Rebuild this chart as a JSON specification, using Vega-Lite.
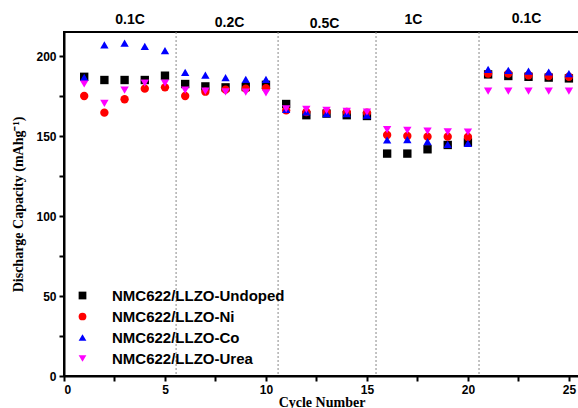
{
  "$schema": "https://vega.github.io/schema/vega-lite/v6.json",
  "width": 515,
  "height": 344,
  "autosize": {"type": "none"},
  "padding": {"left": 64, "top": 32, "right": 0, "bottom": 32},
  "background": "white",
  "config": {
    "view": {"stroke": "black", "strokeWidth": 2},
    "font": "Liberation Sans"
  },
  "datasets": {
    "pts": [
      {"cycle":1,"series":"NMC622/LLZO-Undoped","cap":187},
      {"cycle":2,"series":"NMC622/LLZO-Undoped","cap":185},
      {"cycle":3,"series":"NMC622/LLZO-Undoped","cap":185},
      {"cycle":4,"series":"NMC622/LLZO-Undoped","cap":185},
      {"cycle":5,"series":"NMC622/LLZO-Undoped","cap":187.7},
      {"cycle":6,"series":"NMC622/LLZO-Undoped","cap":182.5},
      {"cycle":7,"series":"NMC622/LLZO-Undoped","cap":181},
      {"cycle":8,"series":"NMC622/LLZO-Undoped","cap":180.4},
      {"cycle":9,"series":"NMC622/LLZO-Undoped","cap":180.6},
      {"cycle":10,"series":"NMC622/LLZO-Undoped","cap":182},
      {"cycle":11,"series":"NMC622/LLZO-Undoped","cap":170},
      {"cycle":12,"series":"NMC622/LLZO-Undoped","cap":163},
      {"cycle":13,"series":"NMC622/LLZO-Undoped","cap":164},
      {"cycle":14,"series":"NMC622/LLZO-Undoped","cap":163},
      {"cycle":15,"series":"NMC622/LLZO-Undoped","cap":162.5},
      {"cycle":16,"series":"NMC622/LLZO-Undoped","cap":139},
      {"cycle":17,"series":"NMC622/LLZO-Undoped","cap":139},
      {"cycle":18,"series":"NMC622/LLZO-Undoped","cap":141.7},
      {"cycle":19,"series":"NMC622/LLZO-Undoped","cap":144.4},
      {"cycle":20,"series":"NMC622/LLZO-Undoped","cap":146},
      {"cycle":21,"series":"NMC622/LLZO-Undoped","cap":188.5},
      {"cycle":22,"series":"NMC622/LLZO-Undoped","cap":187.5},
      {"cycle":23,"series":"NMC622/LLZO-Undoped","cap":187},
      {"cycle":24,"series":"NMC622/LLZO-Undoped","cap":186.5},
      {"cycle":25,"series":"NMC622/LLZO-Undoped","cap":186},
      {"cycle":1,"series":"NMC622/LLZO-Ni","cap":175},
      {"cycle":2,"series":"NMC622/LLZO-Ni","cap":164.6},
      {"cycle":3,"series":"NMC622/LLZO-Ni","cap":173},
      {"cycle":4,"series":"NMC622/LLZO-Ni","cap":179.6},
      {"cycle":5,"series":"NMC622/LLZO-Ni","cap":180.4},
      {"cycle":6,"series":"NMC622/LLZO-Ni","cap":175},
      {"cycle":7,"series":"NMC622/LLZO-Ni","cap":177.7},
      {"cycle":8,"series":"NMC622/LLZO-Ni","cap":179},
      {"cycle":9,"series":"NMC622/LLZO-Ni","cap":179.6},
      {"cycle":10,"series":"NMC622/LLZO-Ni","cap":179.9},
      {"cycle":11,"series":"NMC622/LLZO-Ni","cap":166},
      {"cycle":12,"series":"NMC622/LLZO-Ni","cap":165},
      {"cycle":13,"series":"NMC622/LLZO-Ni","cap":165},
      {"cycle":14,"series":"NMC622/LLZO-Ni","cap":165},
      {"cycle":15,"series":"NMC622/LLZO-Ni","cap":164.6},
      {"cycle":16,"series":"NMC622/LLZO-Ni","cap":150.6},
      {"cycle":17,"series":"NMC622/LLZO-Ni","cap":150},
      {"cycle":18,"series":"NMC622/LLZO-Ni","cap":149.6},
      {"cycle":19,"series":"NMC622/LLZO-Ni","cap":149.6},
      {"cycle":20,"series":"NMC622/LLZO-Ni","cap":149.4},
      {"cycle":21,"series":"NMC622/LLZO-Ni","cap":189},
      {"cycle":22,"series":"NMC622/LLZO-Ni","cap":189},
      {"cycle":23,"series":"NMC622/LLZO-Ni","cap":188},
      {"cycle":24,"series":"NMC622/LLZO-Ni","cap":187.5},
      {"cycle":25,"series":"NMC622/LLZO-Ni","cap":187},
      {"cycle":1,"series":"NMC622/LLZO-Co","cap":186.7},
      {"cycle":2,"series":"NMC622/LLZO-Co","cap":207},
      {"cycle":3,"series":"NMC622/LLZO-Co","cap":208},
      {"cycle":4,"series":"NMC622/LLZO-Co","cap":206},
      {"cycle":5,"series":"NMC622/LLZO-Co","cap":203.3},
      {"cycle":6,"series":"NMC622/LLZO-Co","cap":189.8},
      {"cycle":7,"series":"NMC622/LLZO-Co","cap":188},
      {"cycle":8,"series":"NMC622/LLZO-Co","cap":186.5},
      {"cycle":9,"series":"NMC622/LLZO-Co","cap":185.4},
      {"cycle":10,"series":"NMC622/LLZO-Co","cap":185.4},
      {"cycle":11,"series":"NMC622/LLZO-Co","cap":166.7},
      {"cycle":12,"series":"NMC622/LLZO-Co","cap":165},
      {"cycle":13,"series":"NMC622/LLZO-Co","cap":164},
      {"cycle":14,"series":"NMC622/LLZO-Co","cap":164},
      {"cycle":15,"series":"NMC622/LLZO-Co","cap":163},
      {"cycle":16,"series":"NMC622/LLZO-Co","cap":147.5},
      {"cycle":17,"series":"NMC622/LLZO-Co","cap":147.8},
      {"cycle":18,"series":"NMC622/LLZO-Co","cap":146.5},
      {"cycle":19,"series":"NMC622/LLZO-Co","cap":144.8},
      {"cycle":20,"series":"NMC622/LLZO-Co","cap":145.4},
      {"cycle":21,"series":"NMC622/LLZO-Co","cap":191.7},
      {"cycle":22,"series":"NMC622/LLZO-Co","cap":191},
      {"cycle":23,"series":"NMC622/LLZO-Co","cap":190.6},
      {"cycle":24,"series":"NMC622/LLZO-Co","cap":190},
      {"cycle":25,"series":"NMC622/LLZO-Co","cap":189},
      {"cycle":1,"series":"NMC622/LLZO-Urea","cap":182.5},
      {"cycle":2,"series":"NMC622/LLZO-Urea","cap":170.4},
      {"cycle":3,"series":"NMC622/LLZO-Urea","cap":178.7},
      {"cycle":4,"series":"NMC622/LLZO-Urea","cap":183},
      {"cycle":5,"series":"NMC622/LLZO-Urea","cap":183},
      {"cycle":6,"series":"NMC622/LLZO-Urea","cap":178.7},
      {"cycle":7,"series":"NMC622/LLZO-Urea","cap":178},
      {"cycle":8,"series":"NMC622/LLZO-Urea","cap":177.6},
      {"cycle":9,"series":"NMC622/LLZO-Urea","cap":177.4},
      {"cycle":10,"series":"NMC622/LLZO-Urea","cap":177},
      {"cycle":11,"series":"NMC622/LLZO-Urea","cap":167},
      {"cycle":12,"series":"NMC622/LLZO-Urea","cap":166.7},
      {"cycle":13,"series":"NMC622/LLZO-Urea","cap":166},
      {"cycle":14,"series":"NMC622/LLZO-Urea","cap":165.4},
      {"cycle":15,"series":"NMC622/LLZO-Urea","cap":165},
      {"cycle":16,"series":"NMC622/LLZO-Urea","cap":154},
      {"cycle":17,"series":"NMC622/LLZO-Urea","cap":153.5},
      {"cycle":18,"series":"NMC622/LLZO-Urea","cap":153},
      {"cycle":19,"series":"NMC622/LLZO-Urea","cap":152.6},
      {"cycle":20,"series":"NMC622/LLZO-Urea","cap":152.5},
      {"cycle":21,"series":"NMC622/LLZO-Urea","cap":178},
      {"cycle":22,"series":"NMC622/LLZO-Urea","cap":178},
      {"cycle":23,"series":"NMC622/LLZO-Urea","cap":178},
      {"cycle":24,"series":"NMC622/LLZO-Urea","cap":178},
      {"cycle":25,"series":"NMC622/LLZO-Urea","cap":178}
    ],
    "dividers": [{"x": 5.55}, {"x": 10.6}, {"x": 15.45}, {"x": 20.55}],
    "rates": [
      {"x": 3.27, "y": 222.5, "label": "0.1C"},
      {"x": 8.2, "y": 220.6, "label": "0.2C"},
      {"x": 12.9, "y": 220, "label": "0.5C"},
      {"x": 17.3, "y": 222.5, "label": "1C"},
      {"x": 22.9, "y": 223, "label": "0.1C"}
    ]
  },
  "layer": [
    {
      "data": {"name": "dividers"},
      "mark": {"type": "rule", "color": "#888888", "strokeDash": [2, 2], "strokeWidth": 1},
      "encoding": {
        "x": {"field": "x", "type": "quantitative", "scale": {"domain": [0, 25.5]}}
      }
    },
    {
      "data": {"name": "pts"},
      "mark": {"type": "point", "filled": true, "opacity": 1, "size": 70},
      "encoding": {
        "x": {
          "field": "cycle", "type": "quantitative",
          "scale": {"domain": [0, 25.5], "nice": false, "zero": false},
          "axis": {
            "title": "Cycle Number",
            "titleFont": "Liberation Serif", "titleFontWeight": "bold", "titleFontSize": 14,
            "titlePadding": 0,
            "values": [0, 2.5, 5, 7.5, 10, 12.5, 15, 17.5, 20, 22.5, 25],
            "labelExpr": "datum.value % 5 === 0 ? datum.label : ''",
            "labelFont": "Liberation Sans", "labelFontWeight": "bold", "labelFontSize": 12,
            "labelColor": "black", "labelPadding": 3,
            "tickColor": "black", "tickWidth": 2, "tickSize": 5,
            "domainColor": "black", "domainWidth": 2, "grid": false
          }
        },
        "y": {
          "field": "cap", "type": "quantitative",
          "scale": {"domain": [0, 215], "nice": false},
          "axis": {
            "title": "Discharge Capacity (mAhg⁻¹)",
            "titleFont": "Liberation Serif", "titleFontWeight": "bold", "titleFontSize": 14,
            "titlePadding": 10,
            "values": [0, 25, 50, 75, 100, 125, 150, 175, 200],
            "labelExpr": "datum.value % 50 === 0 ? datum.label : ''",
            "labelFont": "Liberation Sans", "labelFontWeight": "bold", "labelFontSize": 12,
            "labelColor": "black", "labelPadding": 3,
            "tickColor": "black", "tickWidth": 2, "tickSize": 5,
            "domainColor": "black", "domainWidth": 2, "grid": false
          }
        },
        "color": {
          "field": "series", "type": "nominal",
          "scale": {
            "domain": ["NMC622/LLZO-Undoped", "NMC622/LLZO-Ni", "NMC622/LLZO-Co", "NMC622/LLZO-Urea"],
            "range": ["#000000", "#ff0000", "#0000ff", "#ff00ff"]
          },
          "legend": {
            "title": null, "orient": "none", "legendX": 11, "legendY": 256,
            "labelFont": "Liberation Sans", "labelFontWeight": "bold", "labelFontSize": 15,
            "labelColor": "black", "labelOffset": 22, "labelLimit": 0, "rowPadding": 5, "symbolSize": 60,
            "symbolOpacity": 1
          }
        },
        "shape": {
          "field": "series", "type": "nominal",
          "scale": {
            "domain": ["NMC622/LLZO-Undoped", "NMC622/LLZO-Ni", "NMC622/LLZO-Co", "NMC622/LLZO-Urea"],
            "range": ["square", "circle", "triangle-up", "triangle-down"]
          }
        }
      }
    },
    {
      "data": {"name": "rates"},
      "mark": {"type": "text", "font": "Liberation Sans", "fontWeight": "bold", "fontSize": 14, "color": "black"},
      "encoding": {
        "x": {"field": "x", "type": "quantitative"},
        "y": {"field": "y", "type": "quantitative"},
        "text": {"field": "label"}
      }
    }
  ]
}
